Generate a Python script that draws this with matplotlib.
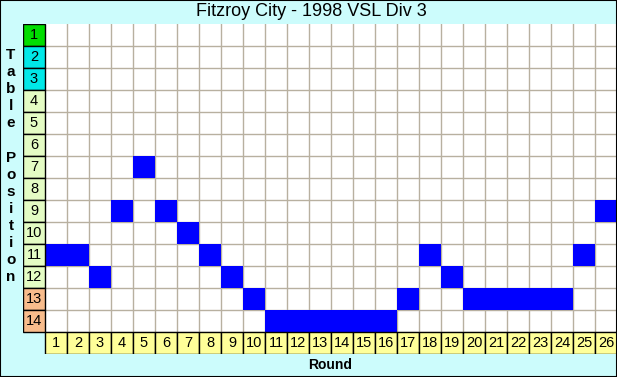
import matplotlib.pyplot as plt
from matplotlib.patches import Rectangle

plt.rcParams['font.family'] = ['Liberation Sans', 'DejaVu Sans']

title = "Fitzroy City - 1998 VSL Div 3"
rounds = list(range(1, 27))
positions = [11, 11, 12, 9, 7, 9, 10, 11, 12, 13, 14, 14, 14, 14, 14, 14,
             13, 11, 12, 13, 13, 13, 13, 13, 11, 9]
table_rows = list(range(1, 15))
row_colors = ['#00dd00', '#00e8e8', '#00e8e8'] + ['#e4fcc4'] * 9 + ['#f8bc8c'] * 2
round_color = '#ffff99'

W, H = 617, 377
fig = plt.figure(figsize=(W / 100, H / 100), dpi=100)
fig.patch.set_facecolor('#ccfcfc')

# grid area in pixels: label column starts at x=23, top at y=24, cell size 22
x0, y0, cell = 23, 24, 22
ncols, nrows = 27, 15
ax = fig.add_axes([x0 / W, 1 - (y0 + nrows * cell) / H,
                   ncols * cell / W, nrows * cell / H])
ax.set_xlim(-0.5, 26.5)
ax.set_ylim(15.5, 0.5)
ax.axis('off')

# white plotting area
ax.add_patch(Rectangle((0.5, 0.5), 26, 14, facecolor='white', edgecolor='none', zorder=0))
for r in rounds:
    ax.plot([r + 0.5, r + 0.5], [0.5, 14.5], color='#b8b0a0', lw=1, zorder=1)
for p in table_rows:
    ax.plot([0.5, 26.5], [p + 0.5, p + 0.5], color='#b8b0a0', lw=1, zorder=1)

# position marks
ax.bar(rounds, 1, bottom=[p - 0.5 for p in positions], width=1,
       color='#0000ff', edgecolor='none', zorder=2)

# table position labels
for p, c in zip(table_rows, row_colors):
    ax.add_patch(Rectangle((-0.5, p - 0.5), 1, 1, facecolor=c, edgecolor='black', lw=1, zorder=3))
    ax.text(0, p, str(p), ha='center', va='center', fontsize=10.5, zorder=4)

# round labels
for r in rounds:
    ax.add_patch(Rectangle((r - 0.5, 14.5), 1, 1, facecolor=round_color, edgecolor='black', lw=1, zorder=3))
    ax.text(r, 15, str(r), ha='center', va='center', fontsize=10.5, zorder=4)

fig.text(311 / W, 1 - 12 / H, title, ha='center', va='center', fontsize=13)
fig.text(330 / W, 1 - 365 / H, "Round", ha='center', va='center', fontsize=10, fontweight='bold')

ylabel = "Table Position"
for i, ch in enumerate(ylabel):
    if ch != ' ':
        fig.text(11 / W, 1 - (55 + i * 17.1) / H, ch, ha='center', va='center',
                 fontsize=11, fontweight='bold')

# outer frame
fig.add_artist(Rectangle((0, 0), 1, 1, transform=fig.transFigure, fill=False,
                         edgecolor='black', lw=1.5))

fig.savefig('out.png', dpi=100, facecolor=fig.get_facecolor())
